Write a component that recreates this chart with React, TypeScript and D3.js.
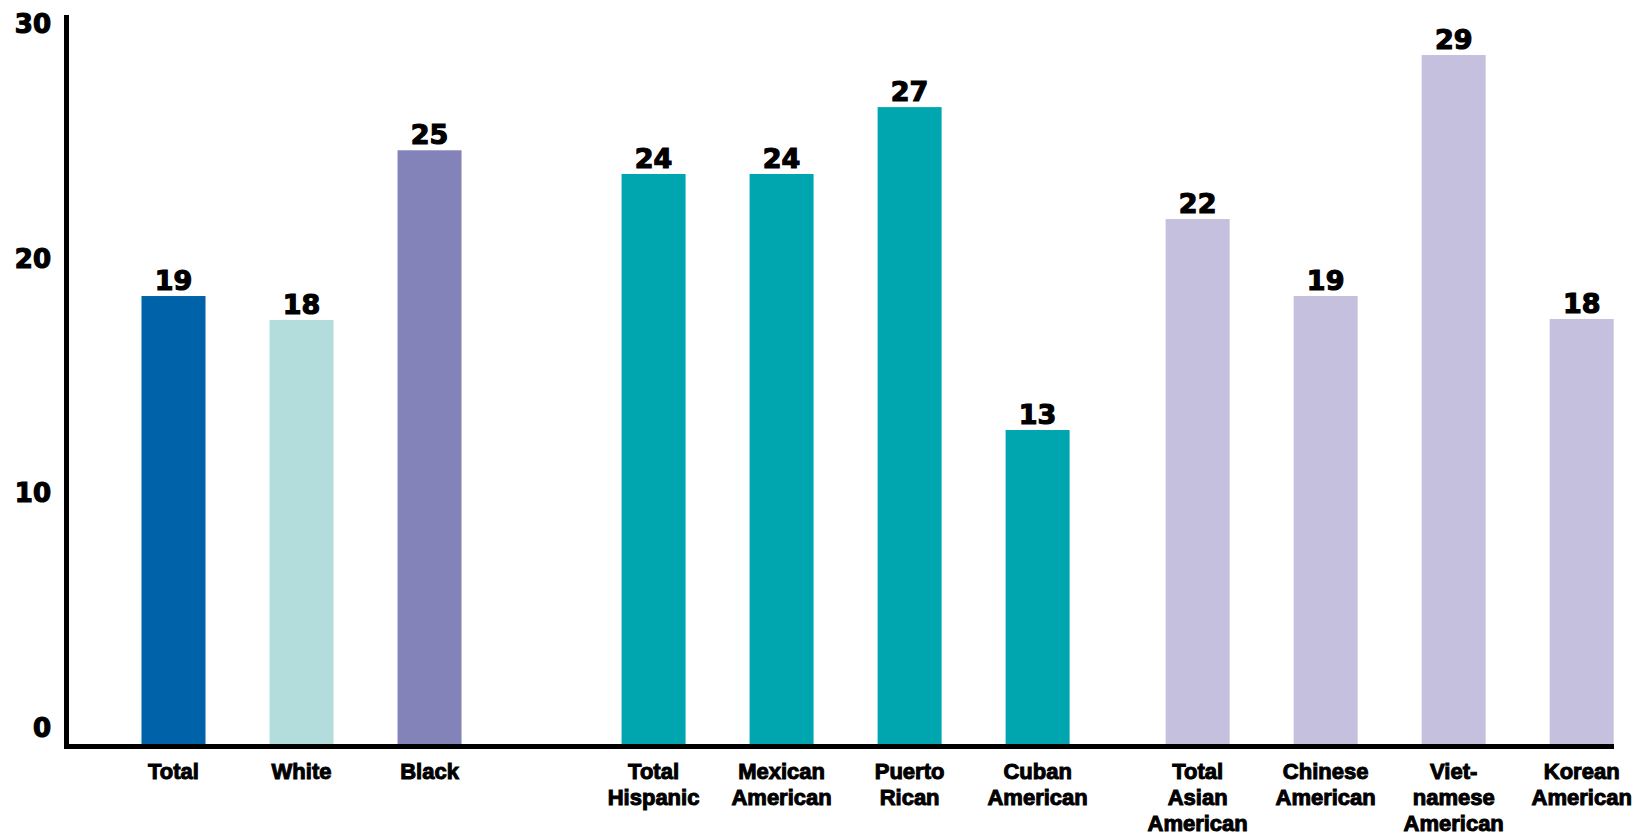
import React from "react";
import * as d3 from "d3";

const categories: string[][] = [
  ["Total"],
  ["White"],
  ["Black"],
  ["Total", "Hispanic"],
  ["Mexican", "American"],
  ["Puerto", "Rican"],
  ["Cuban", "American"],
  ["Total", "Asian", "American"],
  ["Chinese", "American"],
  ["Viet-", "namese", "American"],
  ["Korean", "American"],
];
const values: number[] = [19.09, 18.07, 25.3, 24.29, 24.29, 27.14, 13.38, 22.37, 19.09, 29.36, 18.11];
const groups: number[] = [0, 0, 0, 1, 1, 1, 1, 2, 2, 2, 2];
const colors: string[] = [
  "#0063A9", "#B3DDDD", "#8383BA",
  "#00A6AF", "#00A6AF", "#00A6AF", "#00A6AF",
  "#C5C0DE", "#C5C0DE", "#C5C0DE", "#C5C0DE",
];
const yTicks: number[] = [0, 10, 20, 30];

const W = 1644;
const H = 837;
const groupOffsets = [0, 3, 4];
const barW = 64;

export default function App() {
  const slots = values.map((_, i) => i * 4 + groupOffsets[groups[i]]);
  const x = d3.scaleLinear().domain([0, 44]).range([173.5, 1581.7]);
  const y = d3.scaleLinear().domain([0, 30]).range([744, 40]);
  const numFont = "'DejaVu Sans', sans-serif";
  const catFont = "'Liberation Sans', Arial, sans-serif";

  return (
    <svg width={W} height={H} style={{ position: "absolute", left: 0, top: 0, background: "#fff" }}>
      {values.map((v, i) => (
        <rect
          key={"b" + i}
          x={x(slots[i]) - barW / 2}
          y={y(v)}
          width={barW}
          height={y(0) - y(v)}
          fill={colors[i]}
        />
      ))}
      {values.map((v, i) => (
        <text
          key={"v" + i}
          x={x(slots[i])}
          y={y(v) - 6}
          textAnchor="middle"
          fontFamily={numFont}
          fontWeight="bold"
          fontSize={27}
          fill="#000"
          stroke="#000"
          strokeWidth={1.2}
        >
          {Math.round(v)}
        </text>
      ))}
      {yTicks.map((t) => (
        <text
          key={"t" + t}
          x={51}
          y={y(t) - 16}
          textAnchor="end"
          dominantBaseline="central"
          fontFamily={numFont}
          fontWeight="bold"
          fontSize={26}
          fill="#000"
          stroke="#000"
          strokeWidth={1.2}
        >
          {t}
        </text>
      ))}
      <line x1={66.5} x2={66.5} y1={15} y2={749} stroke="#000" strokeWidth={5} />
      <line x1={64} x2={1614} y1={746.5} y2={746.5} stroke="#000" strokeWidth={5} />
      {categories.map((lines, i) => (
        <text
          key={"c" + i}
          x={x(slots[i])}
          y={779}
          textAnchor="middle"
          fontFamily={catFont}
          fontWeight="bold"
          fontSize={22}
          fill="#000"
          stroke="#000"
          strokeWidth={1}
        >
          {lines.map((l, j) => (
            <tspan key={j} x={x(slots[i])} dy={j === 0 ? 0 : 26}>
              {l}
            </tspan>
          ))}
        </text>
      ))}
    </svg>
  );
}
